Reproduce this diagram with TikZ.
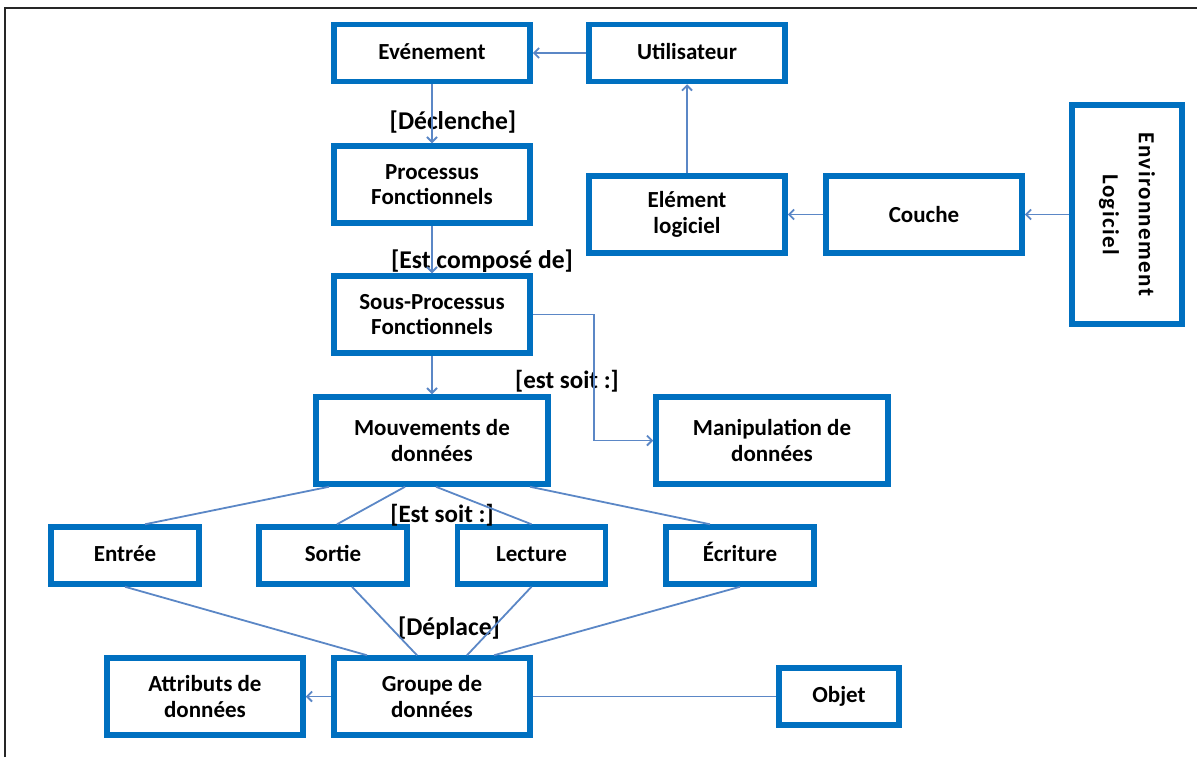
\documentclass[tikz,border=0pt]{standalone}
\usepackage{fontspec}
\setmainfont{Carlito}
\usetikzlibrary{positioning, calc, arrows.meta}

\definecolor{boxblue}{HTML}{0070C0}
\definecolor{linkblue}{HTML}{5B87C6}

\begin{document}
\begin{tikzpicture}[x=0.5pt,y=-0.5pt,->,>={Straight Barb[length=2.5pt,width=5pt]},
                    main node/.style={draw=boxblue,line width=2.75pt,align=center,inner sep=0pt,
                      minimum width=98pt,minimum height=38.5pt,
                      font=\fontsize{11.5}{12.7}\selectfont\bfseries},
                    flat node/.style={main node,minimum height=28.5pt,text height=8.5pt,text depth=2.5pt},
                    move node/.style={flat node,minimum width=74pt},
                    link/.style={draw=linkblue,line width=0.9pt},
                    link text/.style={inner sep=0pt,font=\fontsize{12.8}{15}\selectfont\bfseries},
                    soit text/.style={link text,font=\fontsize{12.5}{15}\selectfont\bfseries}]

  \useasboundingbox (0,0) rectangle (1197,757);
  \draw[-,line width=1.1pt,black!85] (5,757) -- (5,8) -- (1197,8);

  % left column
  \node[flat node] (evt) at (432,53) {Evénement};
  \node[main node] (proc) [below of=evt, node distance=65.75pt] {Processus\\Fonctionnels};
  \node[main node] (sousproc) [below of=proc, node distance=65pt] {Sous-Processus\\Fonctionnels};
  \node[main node, minimum width=116pt, minimum height=43.5pt] (mouv) [below of=sousproc, node distance=63pt] {Mouvements de\\données};
  \node[main node, minimum width=116pt, minimum height=43.5pt] (manip) [right of=mouv, node distance=170pt] {Manipulation de\\données};
  \node[main node] (groupe) [below of=mouv, node distance=128pt] {Groupe de\\données};
  \node[main node] (attr) [left of=groupe, node distance=113.5pt] {Attributs de\\données};
  \node[flat node, minimum width=60pt] (objet) [right of=groupe, node distance=203.5pt] {Objet};

  % right part
  \node[flat node] (user) [right of=evt, node distance=127.5pt] {Utilisateur};
  \node[main node] (elem) [below of=user, node distance=80.75pt] {Elément\\logiciel};
  \node[main node] (couche) [right of=elem, node distance=118.5pt] {Couche};
  \node[main node, rotate=-90, minimum width=109.5pt, minimum height=55pt,
        font=\fontsize{11.5}{18}\selectfont\bfseries\addfontfeature{LetterSpace=6}] (env) at (1127,214.5) {Environnement\\Logiciel};

  % kinds of movement
  \node[move node] (entree) at (125,555.5) {Entrée};
  \node[move node] (sortie) [right of=entree, node distance=104pt] {Sortie};
  \node[move node] (lecture) [right of=sortie, node distance=99.25pt] {Lecture};
  \node[move node] (ecriture) [right of=lecture, node distance=104.25pt] {Écriture};

  % relation labels
  \node[link text] (declenche) at (453,122) {[Déclenche]};
  \node[link text] (compose) at (482,261) {[Est composé de]};
  \node[soit text] (soit) at (567,381) {[est soit :]};
  \node[soit text] (estsoit) at (442,515) {[Est soit :]};
  \node[link text] (deplace) at (449,628) {[Déplace]};

  \path[link]
    (user) edge (evt)
    (evt) edge (proc)
    (proc) edge (sousproc)
    (sousproc) edge (mouv)
    (elem) edge (user)
    (couche) edge (elem)
    (env) edge (couche)
    (groupe) edge (attr);

  \draw[link] (sousproc.east) -- ++(61,0) |- (manip.west);

  \draw[link,-] ($(mouv.south)+(-103,0)$) -- ($(entree.north)+(20,0)$);
  \draw[link,-] ($(mouv.south)+(-27,0)$) -- ($(sortie.north)+(4,0)$);
  \draw[link,-] ($(mouv.south)+(4,0)$) -- (lecture.north);
  \draw[link,-] ($(mouv.south)+(98,0)$) -- ($(ecriture.north)+(-30,0)$);

  \draw[link,-] (entree.south) -- ($(groupe.north)+(-65,0)$);
  \draw[link,-] ($(sortie.south)+(19,0)$) -- ($(groupe.north)+(-15,0)$);
  \draw[link,-] (lecture.south) -- ($(groupe.north)+(35,0)$);
  \draw[link,-] (ecriture.south) -- ($(groupe.north)+(62,0)$);

  \draw[link,-] (groupe) -- (objet);
\end{tikzpicture}
\end{document}
